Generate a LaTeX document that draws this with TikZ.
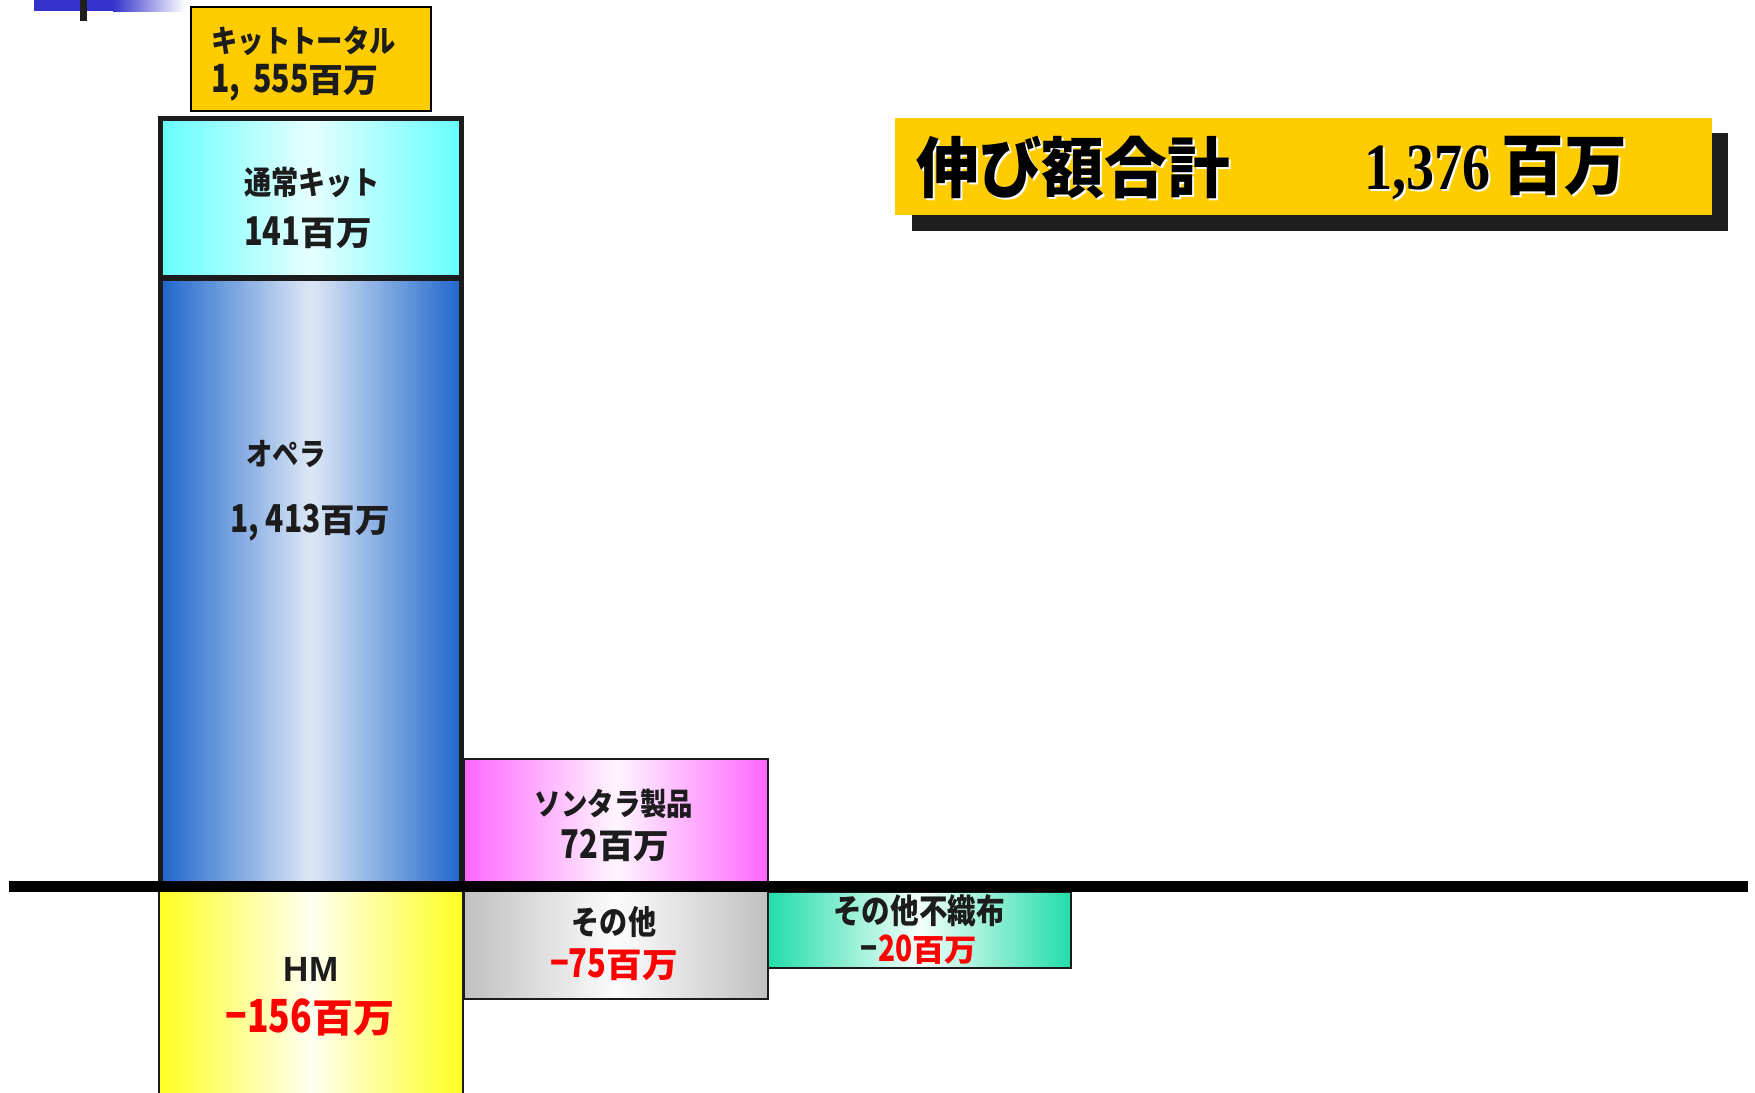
\documentclass[tikz,border=0pt]{standalone}
\usepackage{fontspec}
\newfontfamily\jpfont[FakeStretch=0.85]{Noto Sans CJK JP}
\newfontfamily\digitfont[Scale=1.2,FakeStretch=0.78]{Noto Sans CJK JP}
\newfontfamily\unitfont[Scale=1.03,FakeStretch=1.05]{Noto Sans CJK JP}
\newfontfamily\jpheadfont[FakeStretch=0.95]{Noto Sans CJK JP}
\newfontfamily\latinfont{Liberation Sans}
\newfontfamily\headnumfont[FakeStretch=0.85]{Liberation Serif}
\newcommand\amount[1]{{\digitfont #1}{\unitfont 百万}}
\definecolor{inkgray}{HTML}{1C1C1C}
\definecolor{kitgold}{HTML}{FFCC00}
\definecolor{kitcyan}{HTML}{66FFFF}
\definecolor{kitcyanmid}{HTML}{E6FFFF}
\definecolor{operablue}{HTML}{1E66CC}
\definecolor{operamid}{HTML}{DDE8F6}
\definecolor{sontarapink}{HTML}{FF66FF}
\definecolor{sontaramid}{HTML}{FFF6FF}
\definecolor{hmyellow}{HTML}{FFFF22}
\definecolor{hmmid}{HTML}{FFFFF2}
\definecolor{othergray}{HTML}{C0C0C0}
\definecolor{othermid}{HTML}{FCFCFC}
\definecolor{nwgreen}{HTML}{22DDAA}
\definecolor{nwmid}{HTML}{F4FFFA}
\definecolor{shadowgray}{HTML}{1E1E1E}
\definecolor{topblue}{HTML}{3333CC}
\definecolor{minusred}{HTML}{FF0000}
\begin{document}
\begin{tikzpicture}
[x=1pt,y=-1pt,
 bardecorate/.style={shape=rectangle,inner sep=0pt,draw=inkgray},%
 labeldecorate/.style={inner sep=0pt,text=inkgray,font=\jpfont\bfseries\fontsize{#1}{#1}\selectfont},%
 minusdecorate/.style={labeldecorate=#1,text=minusred},%
 headdecorate/.style={inner sep=0pt,anchor=west,font=\jpheadfont\bfseries\fontsize{33}{33}\selectfont}]
\useasboundingbox (0,0) rectangle (877.5,546);
%% corner mark
\fill[topblue] (17,0) rectangle (56.5,5.5);
\shade[left color=topblue,right color=white] (56.5,0) rectangle (92.5,5.5);
\fill[shadowgray] (40,0) rectangle (43.5,10.5);
%% boxes of the total
\node (kittotal) at (155.5,29.5) [shape=rectangle,inner sep=0pt,draw=black,line width=0.75pt,
  fill=kitgold,minimum width=120pt,minimum height=52pt] {};
\node (totalshadow) at (660,91) [shape=rectangle,inner sep=0pt,fill=shadowgray,
  minimum width=408pt,minimum height=49pt] {};
\node (totalbox) at (651.75,83.25) [shape=rectangle,inner sep=0pt,fill=kitgold,
  minimum width=408.5pt,minimum height=48.5pt] {};
%% bars
\foreach \nodename/\x/\y/\w/\h/\lw/\edge/\mid in {
  normalkit/155.5/99.1/150.5/79.75/2.5/kitcyan/kitcyanmid,
  opera/155.5/290.9/150.5/303.75/2.5/operablue/operamid,
  sontara/308/410.75/152/62.5/1/sontarapink/sontaramid,
  hm/155.5/502/152/116/1/hmyellow/hmmid,
  other/308/472/152/55/1/othergray/othermid,
  nonwoven/459.75/465/151.5/38/1/nwgreen/nwmid} {
  \node (\nodename) at (\x,\y) [bardecorate,line width=\lw pt,minimum width=\w pt,
    minimum height=\h pt,left color=\edge,right color=\edge,middle color=\mid] {};
}
%% zero line
\coordinate (axisleft) at (4.5,443.25);
\coordinate (axisright) at (874,443.25);
\draw[line width=5.5pt,black] (axisleft) -- (axisright);
%% labels
\node (kittotalname) [labeldecorate=15.5,anchor=west] at (105.5,20.4) {キットトータル};
\node (kittotalvalue) [labeldecorate=16.2,anchor=west] at (105.5,41.2) {\amount{1,\,\,555}};
\node (normalkitname) [labeldecorate=16] at (156,91) {通常キット};
\node (normalkitvalue) [labeldecorate=16.5] at (154,116.5) {\amount{141}};
\node (operaname) [labeldecorate=15.5] at (143,227) {オペラ};
\node (operavalue) [labeldecorate=16] at (155,261.5) {\amount{1, 413}};
\node (sontaraname) [labeldecorate=15.5] at (307,401.7) {ソンタラ製品};
\node (sontaravalue) [labeldecorate=16.5] at (307.5,422.5) {\amount{72}};
\node (hmname) [inner sep=0pt,text=inkgray,font=\latinfont\bfseries\fontsize{17.5}{17.5}\selectfont]
  at (155.5,484.75) {HM};
\node (hmvalue) [minusdecorate=19] at (155,508.75) {\amount{−156}};
\node (othername) [labeldecorate=16.5] at (307,460.8) {その他};
\node (othervalue) [minusdecorate=16.5] at (307,482.5) {\amount{−75}};
\node (nonwovenname) [labeldecorate=16.8] at (459.5,455.4) {その他不織布};
\node (nonwovenvalue) [minusdecorate=15] at (459.5,474.8) {\amount{\textcolor{inkgray}{−}20}};
%% total heading
\node (totallabelshadow) [headdecorate,text=white] at (459,84.75) {伸び額合計};
\node (totallabel) [headdecorate] at (458,83.75) {伸び額合計};
\node (totalvalueshadow) [headdecorate,text=white] at (683,84.75) {{\headnumfont 1,376}\,百万};
\node (totalvalue) [headdecorate] at (682,83.75) {{\headnumfont 1,376}\,百万};
\end{tikzpicture}
\end{document}
